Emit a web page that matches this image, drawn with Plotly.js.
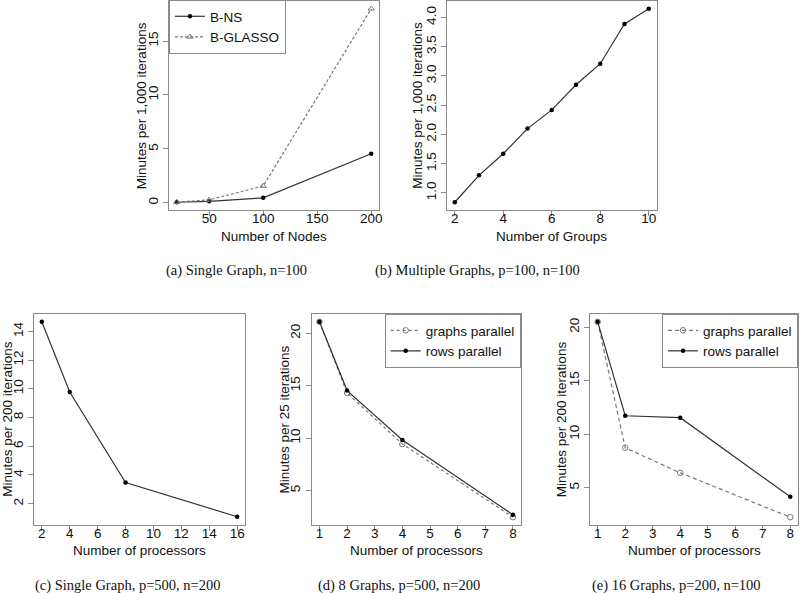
<!DOCTYPE html>
<html>
<head>
<meta charset="utf-8">
<script src="https://cdn.plot.ly/plotly-3.0.1.min.js"></script>
<style>html,body{margin:0;padding:0;background:#fff;}#chart{width:800px;height:593px;}</style>
</head>
<body>
<div id="chart"></div>
<script>
// ---------- data ----------
// (a) Single Graph, n=100
var nodes = [20, 50, 100, 200];
var bnsA = [0.05, 0.14, 0.46, 4.55];
var bglassoA = [0.07, 0.27, 1.56, 18.0];
// (b) Multiple Graphs, p=100, n=100
var groups = [2, 3, 4, 5, 6, 7, 8, 9, 10];
var minutesB = [0.84, 1.30, 1.67, 2.10, 2.42, 2.85, 3.21, 3.89, 4.15];
// (c) Single Graph, p=500, n=200
var procC = [2, 4, 8, 16];
var minutesC = [14.67, 9.78, 3.47, 1.09];
// (d) 8 Graphs, p=500, n=200
var procD = [1, 2, 4, 8];
var graphsD = [21.08, 14.30, 9.44, 2.47];
var rowsD = [21.08, 14.53, 9.83, 2.70];
// (e) 16 Graphs, p=200, n=100
var procE = [1, 2, 4, 8];
var graphsE = [20.5, 8.74, 6.40, 2.26];
var rowsE = [20.5, 11.73, 11.55, 4.16];
// tick values
var ticksAx = [50, 100, 150, 200], ticksAy = [0, 5, 10, 15];
var ticksBx = [2, 4, 6, 8, 10], ticksBy = [1.0, 1.5, 2.0, 2.5, 3.0, 3.5, 4.0];
var ticksCx = [2, 4, 6, 8, 10, 12, 14, 16], ticksCy = [2, 4, 6, 8, 10, 12, 14];
var ticksDx = [1, 2, 3, 4, 5, 6, 7, 8], ticksDy = [5, 10, 15, 20];
var ticksEx = [1, 2, 3, 4, 5, 6, 7, 8], ticksEy = [5, 10, 15, 20];
// texts
var captions = ["(a) Single Graph, n=100", "(b) Multiple Graphs, p=100, n=100",
  "(c) Single Graph, p=500, n=200", "(d) 8 Graphs, p=500, n=200", "(e) 16 Graphs, p=200, n=100"];
var xTitles = ["Number of Nodes", "Number of Groups", "Number of processors", "Number of processors", "Number of processors"];
var yTitles = ["Minutes per 1,000 iterations", "Minutes per 1,000 iterations", "Minutes per 200 iterations",
  "Minutes per 25 iterations", "Minutes per 200 iterations"];

// ---------- helpers ----------
var W = 800, H = 593;
function px(v){ return v / W; }
function py(v){ return 1 - v / H; }
function rr(vals){
  var mn = Math.min.apply(null, vals), mx = Math.max.apply(null, vals), p = (mx - mn) * 0.04;
  return [mn - p, mx + p];
}
var FONT = 'Liberation Sans, Arial, Helvetica, sans-serif';
var frameCol = '#8a8a8a';
var lineCol = '#333333';
var greyCol = '#777777';

function axis(dom, range, tickvals, isY, anchor, fmt){
  var a = {
    domain: dom, range: range, tickvals: tickvals, anchor: anchor,
    showline: true, mirror: true, linecolor: frameCol, linewidth: 1,
    ticks: 'outside', ticklen: 5, tickcolor: frameCol, tickwidth: 1,
    showgrid: false, zeroline: false, fixedrange: true,
    tickfont: {family: FONT, size: 13.5, color: '#111'}
  };
  if (isY) a.tickangle = -90; else a.ticklabelstandoff = -9;
  if (fmt) a.tickformat = fmt;
  return a;
}

// panel frames in pixels: [left, right, top, bottom]
var P = [
  [169, 379, 1, 210],
  [447, 656.5, 1, 210],
  [34, 245, 314, 524.5],
  [311.7, 520.7, 314, 525],
  [590, 798, 314, 525]
];

var solid = function(x, y, name, xa, ya, show, leg){
  return {x: x, y: y, name: name, xaxis: xa, yaxis: ya, type: 'scatter', mode: 'lines+markers',
    line: {color: lineCol, width: 1.2}, marker: {color: '#000', size: 4.5, symbol: 'circle'},
    showlegend: show, legend: leg, hoverinfo: 'skip'};
};
var open = function(x, y, name, xa, ya, sym, dash, leg){
  return {x: x, y: y, name: name, xaxis: xa, yaxis: ya, type: 'scatter', mode: 'lines+markers',
    line: {color: greyCol, width: 1.2, dash: dash},
    marker: {color: greyCol, size: 5.5, symbol: sym, line: {color: greyCol, width: 1}},
    showlegend: true, legend: leg, hoverinfo: 'skip'};
};

var data = [
  solid(nodes, bnsA, 'B-NS', 'x', 'y', true, 'legend'),
  open(nodes, bglassoA, 'B-GLASSO', 'x', 'y', 'triangle-up-open', '3px,2px', 'legend'),
  solid(groups, minutesB, 'Multiple Graphs', 'x2', 'y2', false, 'legend'),
  solid(procC, minutesC, 'Single Graph', 'x3', 'y3', false, 'legend'),
  open(procD, graphsD, 'graphs parallel', 'x4', 'y4', 'circle-open', 'dot', 'legend2'),
  solid(procD, rowsD, 'rows parallel', 'x4', 'y4', true, 'legend2'),
  open(procE, graphsE, 'graphs parallel', 'x5', 'y5', 'circle-open', '4px,3px', 'legend3'),
  solid(procE, rowsE, 'rows parallel', 'x5', 'y5', true, 'legend3')
];

var xd = P.map(function(p){ return [px(p[0]), px(p[1])]; });
var yd = P.map(function(p){ return [py(p[3]), py(p[2])]; });

var legendStyle = function(x, y, xanchor){
  return {x: x, y: y, xanchor: xanchor, yanchor: 'top', xref: 'paper', yref: 'paper',
    bgcolor: '#fff', bordercolor: frameCol, borderwidth: 1,
    font: {family: FONT, size: 13.5, color: '#111'}, tracegroupgap: 0};
};

var annotations = [];
var capPos = [[236.7, 270.5], [477.5, 270.5], [128, 585.5], [399.2, 585.5], [676.7, 585.5]];
var xTitleY = [236, 236, 550.5, 550.5, 550.5];
var yTitleX = [141.7, 417.3, 7.5, 284, 561.7];
for (var i = 0; i < 5; i++){
  var p = P[i];
  annotations.push({text: captions[i], x: px(capPos[i][0]), y: py(capPos[i][1]), xref: 'paper', yref: 'paper',
    showarrow: false, xanchor: 'center', yanchor: 'middle',
    font: {family: 'Liberation Serif, Times New Roman, serif', size: 14.5, color: '#111'}});
  annotations.push({text: xTitles[i], x: px((p[0] + p[1]) / 2), y: py(xTitleY[i]), xref: 'paper', yref: 'paper',
    showarrow: false, xanchor: 'center', yanchor: 'middle', font: {family: FONT, size: 13.5, color: '#111'}});
  annotations.push({text: yTitles[i], x: px(yTitleX[i]), y: py((p[2] + p[3]) / 2), xref: 'paper', yref: 'paper',
    showarrow: false, xanchor: 'center', yanchor: 'middle', textangle: -90, font: {family: FONT, size: 13.5, color: '#111'}});
}

var layout = {
  width: W, height: H, margin: {l: 0, r: 0, t: 0, b: 0},
  paper_bgcolor: '#fff', plot_bgcolor: '#fff',
  font: {family: FONT, color: '#111'},
  xaxis: axis(xd[0], rr(nodes), ticksAx, false, 'y'),
  yaxis: axis(yd[0], rr(bnsA.concat(bglassoA)), ticksAy, true, 'x'),
  xaxis2: axis(xd[1], rr(groups), ticksBx, false, 'y2'),
  yaxis2: axis(yd[1], rr(minutesB), ticksBy, true, 'x2', '.1f'),
  xaxis3: axis(xd[2], rr(procC), ticksCx, false, 'y3'),
  yaxis3: axis(yd[2], rr(minutesC), ticksCy, true, 'x3'),
  xaxis4: axis(xd[3], rr(procD), ticksDx, false, 'y4'),
  yaxis4: axis(yd[3], rr(graphsD.concat(rowsD)), ticksDy, true, 'x4'),
  xaxis5: axis(xd[4], rr(procE), ticksEx, false, 'y5'),
  yaxis5: axis(yd[4], rr(graphsE.concat(rowsE)), ticksEy, true, 'x5'),
  legend: legendStyle(px(P[0][0]), py(P[0][2] - 1), 'left'),
  legend2: legendStyle(px(P[3][1]), py(P[3][2]), 'right'),
  legend3: legendStyle(px(P[4][1]), py(P[4][2]), 'right'),
  annotations: annotations,
  showlegend: true
};

Plotly.newPlot('chart', data, layout, {staticPlot: true, displayModeBar: false});
</script>
</body>
</html>
